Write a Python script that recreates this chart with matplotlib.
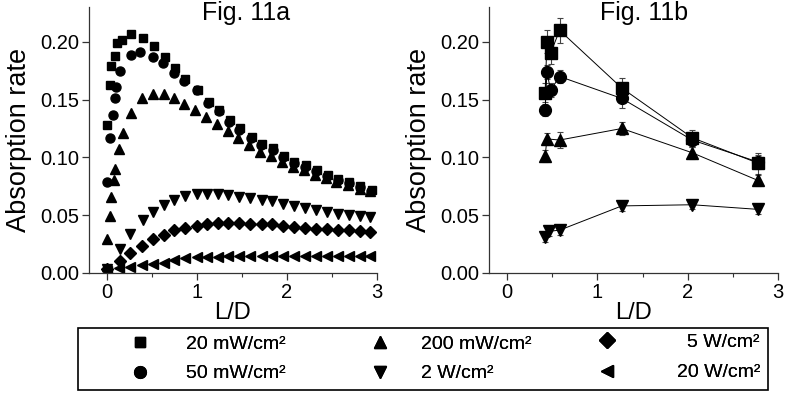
import matplotlib
matplotlib.use("Agg")
import matplotlib.pyplot as plt
from matplotlib.ticker import MultipleLocator, FormatStrFormatter
from matplotlib.patches import Rectangle

plt.rcParams['font.family'] = ['Liberation Sans', 'DejaVu Sans']

# --- Fig. 11a data (L/D vs absorption rate) ---
x_20mw = [0.0, 0.03, 0.05, 0.09, 0.11, 0.17, 0.27, 0.40, 0.52, 0.64, 0.76, 0.87, 1.01, 1.13,
          1.24, 1.37, 1.48, 1.61, 1.72, 1.85, 1.97, 2.08, 2.21, 2.33, 2.46, 2.57, 2.69, 2.81, 2.94]
y_20mw = [0.128, 0.163, 0.179, 0.188, 0.199, 0.202, 0.207, 0.203, 0.196, 0.187, 0.177, 0.168, 0.158, 0.148,
          0.141, 0.132, 0.125, 0.118, 0.112, 0.108, 0.101, 0.096, 0.093, 0.089, 0.085, 0.081, 0.079, 0.075, 0.072]

x_50mw = [0.0, 0.03, 0.07, 0.09, 0.10, 0.15, 0.27, 0.37, 0.51, 0.62, 0.74, 0.86, 1.00, 1.12,
          1.24, 1.36, 1.47, 1.60, 1.71, 1.84, 1.96, 2.08, 2.20, 2.32, 2.45, 2.57, 2.69, 2.81, 2.93]
y_50mw = [0.079, 0.117, 0.137, 0.151, 0.161, 0.175, 0.189, 0.191, 0.187, 0.182, 0.173, 0.166, 0.158, 0.147,
          0.140, 0.131, 0.124, 0.117, 0.111, 0.106, 0.100, 0.095, 0.092, 0.088, 0.084, 0.080, 0.078, 0.074, 0.071]

x_200mw = [0.0, 0.03, 0.05, 0.08, 0.09, 0.13, 0.18, 0.27, 0.39, 0.51, 0.63, 0.74, 0.86, 0.98, 1.10,
           1.22, 1.35, 1.46, 1.58, 1.70, 1.82, 1.94, 2.07, 2.19, 2.31, 2.43, 2.55, 2.68, 2.81, 2.92]
y_200mw = [0.029, 0.049, 0.066, 0.080, 0.090, 0.107, 0.121, 0.138, 0.151, 0.155, 0.155, 0.151, 0.146, 0.141, 0.135,
           0.129, 0.123, 0.117, 0.111, 0.105, 0.101, 0.096, 0.092, 0.089, 0.085, 0.082, 0.079, 0.076, 0.073, 0.071]

x_2w = [0.0, 0.14, 0.26, 0.40, 0.51, 0.63, 0.74, 0.87, 1.00, 1.11, 1.23, 1.35, 1.47,
        1.59, 1.72, 1.83, 1.96, 2.08, 2.20, 2.32, 2.45, 2.57, 2.69, 2.81, 2.92]
y_2w = [0.003, 0.021, 0.034, 0.046, 0.053, 0.059, 0.063, 0.067, 0.068, 0.068, 0.068, 0.0675, 0.066,
        0.065, 0.063, 0.062, 0.060, 0.058, 0.056, 0.0545, 0.0525, 0.051, 0.050, 0.049, 0.048]

x_5w = [0.0, 0.14, 0.26, 0.39, 0.51, 0.63, 0.74, 0.87, 1.00, 1.11, 1.23, 1.35, 1.47,
        1.59, 1.72, 1.83, 1.96, 2.08, 2.20, 2.32, 2.45, 2.57, 2.69, 2.81, 2.92]
y_5w = [0.003, 0.010, 0.017, 0.023, 0.029, 0.033, 0.037, 0.039, 0.041, 0.042, 0.043, 0.043, 0.043,
        0.042, 0.042, 0.042, 0.041, 0.040, 0.039, 0.038, 0.038, 0.037, 0.037, 0.036, 0.035]

x_20w = [0.0, 0.13, 0.26, 0.39, 0.51, 0.63, 0.74, 0.87, 1.00, 1.11, 1.23, 1.35, 1.47,
         1.59, 1.72, 1.83, 1.96, 2.08, 2.20, 2.32, 2.45, 2.57, 2.69, 2.81, 2.92]
y_20w = [0.002, 0.004, 0.005, 0.007, 0.008, 0.009, 0.011, 0.013, 0.0135, 0.014, 0.014, 0.015, 0.015,
         0.015, 0.015, 0.015, 0.015, 0.015, 0.015, 0.015, 0.015, 0.015, 0.015, 0.015, 0.015]

# --- Fig. 11b data (measured, with error bars) ---
xb_20mw = [0.42, 0.44, 0.48, 0.58, 1.27, 2.05, 2.78]
yb_20mw = [0.156, 0.200, 0.190, 0.210, 0.160, 0.117, 0.095]
eb_20mw = [0.008, 0.010, 0.009, 0.011, 0.009, 0.007, 0.009]

xb_50mw = [0.42, 0.44, 0.48, 0.58, 1.27, 2.05, 2.78]
yb_50mw = [0.141, 0.174, 0.158, 0.170, 0.151, 0.115, 0.096]
eb_50mw = [0.005, 0.006, 0.006, 0.006, 0.008, 0.006, 0.006]

xb_200mw = [0.42, 0.44, 0.58, 1.27, 2.05, 2.78]
yb_200mw = [0.101, 0.116, 0.115, 0.125, 0.104, 0.080]
eb_200mw = [0.005, 0.005, 0.007, 0.006, 0.005, 0.005]

xb_2w = [0.42, 0.46, 0.58, 1.27, 2.05, 2.78]
yb_2w = [0.031, 0.036, 0.037, 0.058, 0.059, 0.055]
eb_2w = [0.004, 0.004, 0.004, 0.004, 0.004, 0.004]

labels = ['20 mW/cm²', '50 mW/cm²', '200 mW/cm²', '2 W/cm²', '5 W/cm²', '20 W/cm²']
markers = ['s', 'o', '^', 'v', 'D', '<']

fig = plt.figure(figsize=(7.89, 3.99), dpi=100)
ax1 = fig.add_axes([0.1128, 0.316, 0.365, 0.666])
ax2 = fig.add_axes([0.620, 0.316, 0.366, 0.666])

series_a = [(x_20mw, y_20mw), (x_50mw, y_50mw), (x_200mw, y_200mw),
            (x_2w, y_2w), (x_5w, y_5w), (x_20w, y_20w)]
sizes_a = [6, 6.5, 7, 7, 6, 7]
handles = []
for (xs, ys), m, lab, ms in zip(series_a, markers, labels, sizes_a):
    h, = ax1.plot(xs, ys, linestyle='none', marker=m, color='black', markersize=ms, label=lab)
    handles.append(h)

series_b = [(xb_20mw, yb_20mw, eb_20mw, 's'), (xb_50mw, yb_50mw, eb_50mw, 'o'),
            (xb_200mw, yb_200mw, eb_200mw, '^'), (xb_2w, yb_2w, eb_2w, 'v')]
for xs, ys, es, m in series_b:
    ax2.errorbar(xs, ys, yerr=es, marker=m, color='black', markersize=8.5, linewidth=0.7,
                 elinewidth=0.8, capsize=2.5, capthick=0.8, ecolor='#444444')

for ax, title, tx in [(ax1, 'Fig. 11a', 1.55), (ax2, 'Fig. 11b', 1.52)]:
    ax.set_xlim(-0.2, 3.0)
    ax.set_ylim(0, 0.23)
    ax.xaxis.set_major_locator(MultipleLocator(1))
    ax.xaxis.set_minor_locator(MultipleLocator(0.5))
    ax.yaxis.set_major_locator(MultipleLocator(0.05))
    ax.yaxis.set_major_formatter(FormatStrFormatter('%.2f'))
    ax.spines['top'].set_visible(False)
    ax.spines['right'].set_visible(False)
    for s in ['left', 'bottom']:
        ax.spines[s].set_linewidth(0.9)
        ax.spines[s].set_color('#333333')
    ax.tick_params(which='major', direction='out', length=5, width=0.9, labelsize=14.5,
                   color='#333333', pad=2)
    ax.tick_params(which='minor', direction='out', length=3, width=0.8, color='#333333')
    ax.set_xlabel('L/D', fontsize=17, labelpad=0)
    ax.set_ylabel('Absorption rate', fontsize=19.5, labelpad=6)
    ax.text(tx, 0.235, title, fontsize=18, ha='center', va='top')

# legend: frame box plus columns (third column right-aligned like the original)
fig.add_artist(Rectangle((0.099, 0.0226), 0.874, 0.155, transform=fig.transFigure,
                         fill=False, edgecolor='black', linewidth=1.2))
leg_kw = dict(bbox_transform=fig.transFigure, frameon=False, fontsize=14,
              handlelength=1.0, markerscale=1.3, borderpad=0, borderaxespad=0,
              labelspacing=0.6)
for i, (cx, pad) in enumerate([(0.1648, 1.9), (0.469, 1.6)]):
    leg = fig.legend(handles=handles[2 * i:2 * i + 2], labels=labels[2 * i:2 * i + 2],
                     loc='center left', bbox_to_anchor=(cx, 0.1005), handletextpad=pad, **leg_kw)
    fig.add_artist(leg)
for h, lab, cy, pad in [(handles[4], labels[4], 0.1430, 3.65), (handles[5], labels[5], 0.0662, 3.1)]:
    leg = fig.legend(handles=[h], labels=[lab], loc='center left',
                     bbox_to_anchor=(0.7567, cy), handletextpad=pad, **leg_kw)
    fig.add_artist(leg)

fig.savefig('out.png', dpi=100)
